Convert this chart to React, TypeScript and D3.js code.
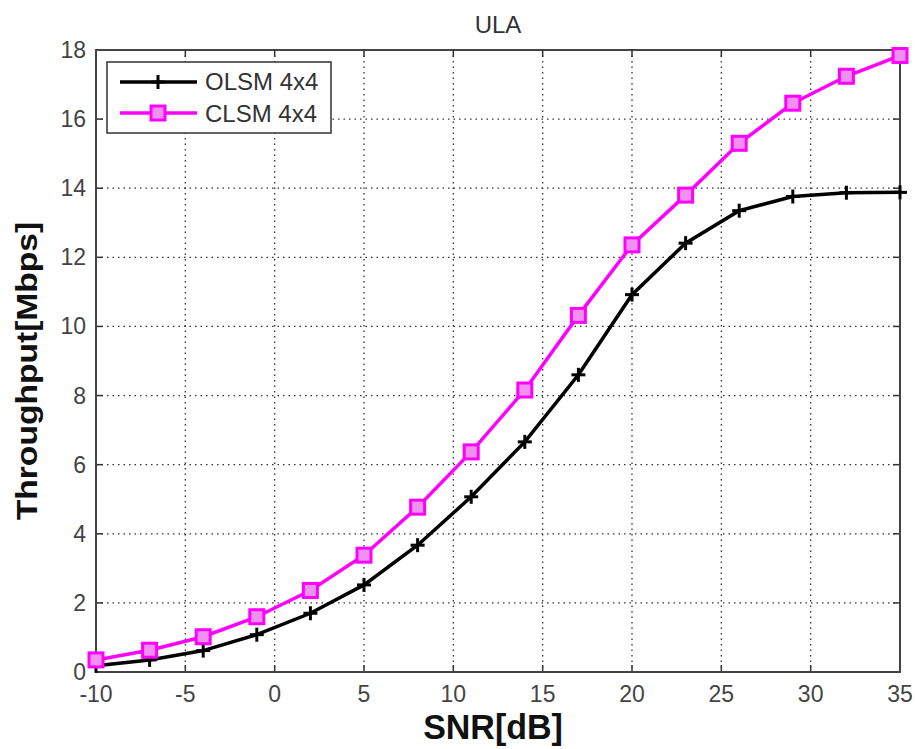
import * as d3 from "d3";

const snr = [-10, -7, -4, -1, 2, 5, 8, 11, 14, 17, 20, 23, 26, 29, 32, 35];
const olsm = [0.18, 0.35, 0.62, 1.08, 1.7, 2.52, 3.67, 5.07, 6.66, 8.6, 10.92, 12.41, 13.35, 13.76, 13.87, 13.88];
const clsm = [0.35, 0.63, 1.02, 1.6, 2.36, 3.38, 4.77, 6.37, 8.16, 10.32, 12.36, 13.8, 15.3, 16.46, 17.24, 17.84];
const xTicks = [-10, -5, 0, 5, 10, 15, 20, 25, 30, 35];
const yTicks = [0, 2, 4, 6, 8, 10, 12, 14, 16, 18];
const seriesNames = ["OLSM 4x4", "CLSM 4x4"];

const width = 915;
const height = 749;
const margin = { top: 50, right: 15, bottom: 77, left: 96 };
const font = "Arial, 'Liberation Sans', sans-serif";

export default function App() {
  const x = d3.scaleLinear().domain([-10, 35]).range([margin.left, width - margin.right]);
  const y = d3.scaleLinear().domain([0, 18]).range([height - margin.bottom, margin.top]);
  const line = d3.line<number>().x((_, i) => x(snr[i])).y((d) => y(d));
  const [x0, x1] = x.range();
  const [y0, y1] = y.range();
  const tick = 7;

  const plus = (cx: number, cy: number, k: string) => (
    <g key={k} stroke="#000" strokeWidth={3}>
      <line x1={cx - 7} x2={cx + 7} y1={cy} y2={cy} />
      <line x1={cx} x2={cx} y1={cy - 7} y2={cy + 7} />
    </g>
  );
  const square = (cx: number, cy: number, k: string) => (
    <rect key={k} x={cx - 7} y={cy - 7} width={14} height={14} fill="#f090f0" stroke="#ff00ff" strokeWidth={3} />
  );

  return (
    <svg width={width} height={height} style={{ position: "absolute", left: 0, top: 0, background: "#fff" }} fontFamily={font}>
      <rect width={width} height={height} fill="#fff" />
      {/* grid */}
      {xTicks.slice(1, -1).map((t) => (
        <line key={"gx" + t} x1={x(t)} x2={x(t)} y1={y1} y2={y0} stroke="#333" strokeWidth={1.3} strokeDasharray="1.5,4" />
      ))}
      {yTicks.slice(1, -1).map((t) => (
        <line key={"gy" + t} x1={x0} x2={x1} y1={y(t)} y2={y(t)} stroke="#333" strokeWidth={1.3} strokeDasharray="1.5,4" />
      ))}
      {/* ticks on all sides */}
      {xTicks.map((t) => (
        <g key={"tx" + t} stroke="#333" strokeWidth={1.5}>
          <line x1={x(t)} x2={x(t)} y1={y0} y2={y0 - tick} />
          <line x1={x(t)} x2={x(t)} y1={y1} y2={y1 + tick} />
        </g>
      ))}
      {yTicks.map((t) => (
        <g key={"ty" + t} stroke="#333" strokeWidth={1.5}>
          <line x1={x0} x2={x0 + tick} y1={y(t)} y2={y(t)} />
          <line x1={x1} x2={x1 - tick} y1={y(t)} y2={y(t)} />
        </g>
      ))}
      <rect x={x0} y={y1} width={x1 - x0} height={y0 - y1} fill="none" stroke="#444" strokeWidth={2} />
      {/* tick labels */}
      {xTicks.map((t) => (
        <text key={"lx" + t} x={x(t)} y={y0 + 30} textAnchor="middle" fontSize={23} fill="#444">{t}</text>
      ))}
      {yTicks.map((t) => (
        <text key={"ly" + t} x={x0 - 10} y={y(t) + 8} textAnchor="end" fontSize={23} fill="#444">{t}</text>
      ))}
      {/* series */}
      <path d={line(olsm) ?? ""} fill="none" stroke="#000" strokeWidth={3.5} />
      {olsm.map((v, i) => plus(x(snr[i]), y(v), "po" + i))}
      <path d={line(clsm) ?? ""} fill="none" stroke="#ff00ff" strokeWidth={3.5} />
      {clsm.map((v, i) => square(x(snr[i]), y(v), "pc" + i))}
      {/* legend */}
      <g>
        <rect x={107} y={62} width={224} height={71} fill="#fff" stroke="#333" strokeWidth={1.5} />
        <line x1={120} x2={197} y1={82} y2={82} stroke="#000" strokeWidth={3.5} />
        {plus(158, 82, "lp")}
        <text x={205} y={90} fontSize={24} fill="#333">{seriesNames[0]}</text>
        <line x1={120} x2={197} y1={113} y2={113} stroke="#ff00ff" strokeWidth={3.5} />
        {square(158, 113, "ls")}
        <text x={205} y={122} fontSize={24} fill="#333">{seriesNames[1]}</text>
      </g>
      {/* titles */}
      <text x={(x0 + x1) / 2} y={33} textAnchor="middle" fontSize={24} fill="#333">ULA</text>
      <text transform="translate(493,739) scale(1,1.05)" textAnchor="middle" fontSize={34} fontWeight="bold" fill="#111">SNR[dB]</text>
      <text transform="translate(37,371) rotate(-90) scale(1.12,1)" textAnchor="middle" fontSize={30} fontWeight="bold" fill="#111">Throughput[Mbps]</text>
    </svg>
  );
}
